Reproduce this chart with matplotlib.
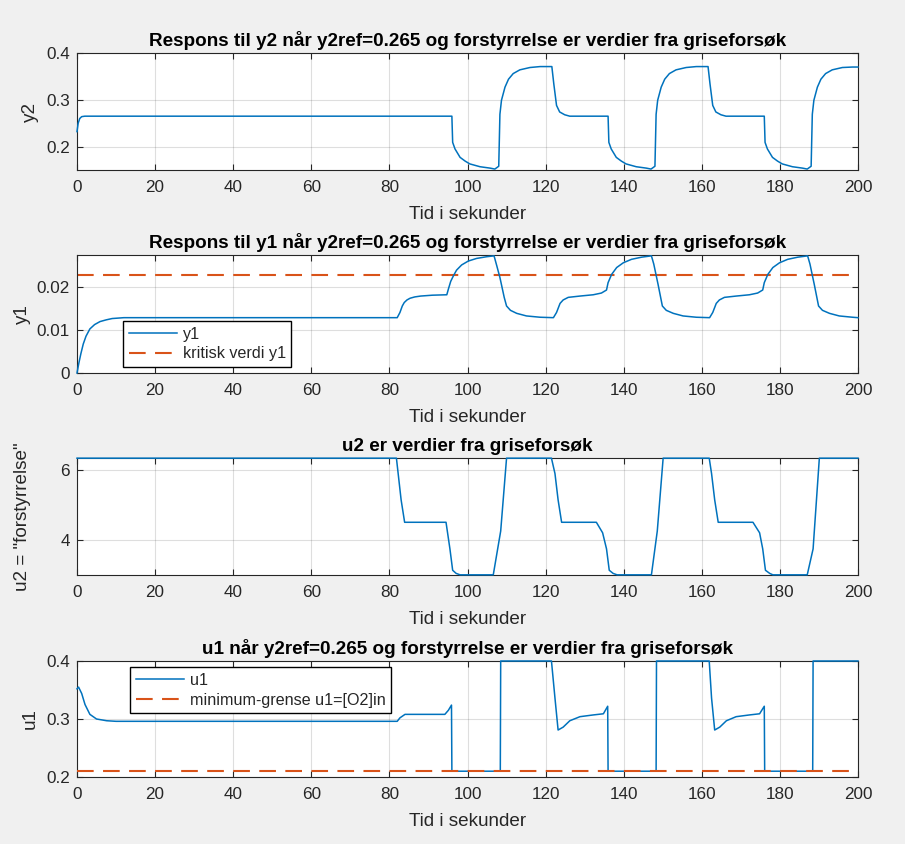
import matplotlib
matplotlib.use("Agg")
import matplotlib.pyplot as plt

plt.rcParams['font.family'] = ['Liberation Sans', 'DejaVu Sans']

# ---------------- data ----------------
xticks = [0, 20, 40, 60, 80, 100, 120, 140, 160, 180, 200]

# Panel 1: y2
y2_t = [0, 0.3, 0.7, 1.2, 2.0, 96.0, 96.2, 96.8, 98.1, 99.4, 100.6, 103.2, 105.8, 107.0, 108.0,
        108.3, 108.7, 109.6, 110.5, 111.7, 113.4, 116.0, 118.6, 121.6, 122.1, 122.8, 123.6, 124.9, 126.2,
        136.0, 136.2, 136.8, 138.1, 139.4, 140.6, 143.2, 145.8, 147.0, 148.0,
        148.3, 148.7, 149.6, 150.5, 151.7, 153.4, 156.0, 158.6, 161.6, 162.1, 162.8, 163.6, 164.9, 166.2,
        176.0, 176.2, 176.8, 178.1, 179.4, 180.6, 183.2, 185.8, 187.0, 188.0,
        188.3, 188.7, 189.6, 190.5, 191.7, 193.4, 196.0, 198.6, 200.0]
y2_v = [0.232, 0.250, 0.260, 0.264, 0.265, 0.265, 0.209, 0.195, 0.177, 0.169, 0.163, 0.157, 0.154, 0.152, 0.158,
        0.269, 0.299, 0.327, 0.344, 0.356, 0.364, 0.369, 0.371, 0.371, 0.334, 0.288, 0.274, 0.268, 0.265,
        0.265, 0.209, 0.195, 0.177, 0.169, 0.163, 0.157, 0.154, 0.152, 0.158,
        0.269, 0.299, 0.327, 0.344, 0.356, 0.364, 0.369, 0.371, 0.371, 0.334, 0.288, 0.274, 0.268, 0.265,
        0.265, 0.209, 0.195, 0.177, 0.169, 0.163, 0.157, 0.154, 0.152, 0.158,
        0.269, 0.299, 0.327, 0.344, 0.356, 0.364, 0.369, 0.370, 0.370]

# Panel 2: y1
y1_t = [0, 0.5, 1.0, 1.6, 2.3, 3.3, 4.5, 5.9, 7.5, 9.0, 12.0, 16.0,
        82.0, 82.7, 83.3, 83.8, 84.5, 85.3, 86.5, 88.0, 91.0, 94.7, 95.1, 95.7, 96.4, 97.2, 98.5, 100.2,
        102.3, 104.9, 106.8, 107.5, 108.3, 109.4, 110.0, 111.0, 112.6, 115.1, 118.6, 122.0,
        122.8, 123.7, 124.5, 125.8, 128.8, 132.2, 134.3, 135.6, 136.0, 136.9, 138.2, 139.9, 142.0,
        144.6, 147.1, 147.7, 148.8, 149.9, 150.9, 152.7, 155.2, 158.6, 162.0,
        162.8, 163.7, 164.5, 165.8, 168.8, 172.2, 174.3, 175.6, 176.0, 176.9, 178.2, 179.9, 182.0,
        184.6, 187.1, 187.7, 188.8, 189.9, 190.9, 192.7, 195.2, 198.6, 200.0]
y1_v = [0.0, 0.0024, 0.0045, 0.0067, 0.0085, 0.0102, 0.0112, 0.0119, 0.0123, 0.0126, 0.0128, 0.0128,
        0.0128, 0.0140, 0.0155, 0.0163, 0.0169, 0.0173, 0.0176, 0.0178, 0.0180, 0.0181, 0.0194, 0.0212,
        0.0225, 0.0238, 0.0250, 0.0259, 0.0265, 0.0269, 0.0271, 0.0248, 0.0221, 0.0175, 0.0155, 0.0145,
        0.0138, 0.0132, 0.0129, 0.0128,
        0.0140, 0.0161, 0.0169, 0.0175, 0.0178, 0.0181, 0.0185, 0.0192, 0.0209, 0.0228, 0.0244, 0.0255,
        0.0263, 0.0268, 0.0271, 0.0252, 0.0205, 0.0155, 0.0145, 0.0138, 0.0132, 0.0129, 0.0128,
        0.0140, 0.0161, 0.0169, 0.0175, 0.0178, 0.0181, 0.0185, 0.0192, 0.0209, 0.0228, 0.0244, 0.0255,
        0.0263, 0.0268, 0.0271, 0.0252, 0.0205, 0.0155, 0.0145, 0.0138, 0.0132, 0.0129, 0.0128]
y1_crit = 0.0226

# Panel 3: u2 (disturbance)
u2_t = [0, 81.8, 83.0, 83.9, 94.5, 95.5, 96.2, 97.1, 98.1, 106.6, 108.5, 110.0,
        121.5, 122.4, 123.2, 124.1, 133.0, 134.6, 135.6, 136.3, 137.3, 138.3, 147.1, 148.6, 150.1,
        161.9, 162.5, 163.3, 164.2, 173.1, 174.8, 175.6, 176.3, 177.4, 178.2, 187.0, 188.5, 190.1, 200.0]
u2_v = [6.33, 6.33, 5.14, 4.5, 4.5, 3.74, 3.13, 3.04, 3.0, 3.0, 4.25, 6.33,
        6.33, 5.89, 5.14, 4.5, 4.5, 4.2, 3.74, 3.13, 3.04, 3.0, 3.0, 4.25, 6.33,
        6.33, 5.89, 5.14, 4.5, 4.5, 4.2, 3.74, 3.13, 3.04, 3.0, 3.0, 3.74, 6.33, 6.33]

# Panel 4: u1
u1_t = [0, 0.4, 1.2, 2.05, 3.3, 5.0, 7.6, 10.0, 82.0, 82.7, 84.0, 94.2, 95.1, 95.9, 96.0,
        108.4, 108.5, 121.5, 122.4, 123.2, 124.5, 126.2, 128.8, 132.2, 134.8, 135.9, 136.0,
        148.3, 148.4, 161.9, 162.5, 163.3, 164.6, 166.3, 168.8, 172.2, 174.8, 176.0, 176.1,
        188.4, 188.5, 200.0]
u1_v = [0.352, 0.355, 0.344, 0.325, 0.308, 0.300, 0.297, 0.296, 0.296, 0.302, 0.308, 0.308, 0.315, 0.324, 0.21,
        0.21, 0.40, 0.40, 0.336, 0.281, 0.286, 0.297, 0.304, 0.307, 0.309, 0.322, 0.21,
        0.21, 0.40, 0.40, 0.336, 0.281, 0.286, 0.297, 0.304, 0.307, 0.309, 0.322, 0.21,
        0.21, 0.40, 0.40]
u1_min = 0.21

titles = ["Respons til y2 når y2ref=0.265 og forstyrrelse er verdier fra griseforsøk",
          "Respons til y1 når y2ref=0.265 og forstyrrelse er verdier fra griseforsøk",
          "u2 er verdier fra griseforsøk",
          "u1 når y2ref=0.265 og forstyrrelse er verdier fra griseforsøk"]
ylabels = ["y2", "y1", 'u2 = "forstyrrelse"', "u1"]
xlabel = "Tid i sekunder"

# ---------------- style ----------------
BLUE = "#0072BD"
ORANGE = "#D95319"
AX = "#262626"
TICK_FS = 12.3
LABEL_FS = 13.6
TITLE_FS = 13.6
LEG_FS = 11.6

fig = plt.figure(figsize=(9.05, 8.44), dpi=100, facecolor="#f0f0f0")
W, H = 905.0, 844.0
left, right = 77 / W, 858 / W
boxes = [(53, 170), (255, 373), (458, 575), (661, 777)]
ylabel_x = [-0.0487, -0.0589, -0.0589, -0.0487]
axes = []
for top, bot in boxes:
    ax = fig.add_axes([left, 1 - bot / H, right - left, (bot - top) / H])
    axes.append(ax)


def style(ax, yticks, ylim, ylabel, title, lx):
    ax.set_xlim(0, 200)
    ax.set_ylim(*ylim)
    ax.set_xticks(xticks)
    ax.set_yticks(yticks)
    ax.set_facecolor("white")
    ax.grid(True, color=AX, alpha=0.15, linewidth=0.8)
    ax.set_axisbelow(True)
    for s in ax.spines.values():
        s.set_color(AX)
        s.set_linewidth(0.8)
    ax.tick_params(direction="in", length=4, width=0.8, colors=AX, labelsize=TICK_FS,
                   top=True, right=True, labelcolor=AX)
    ax.tick_params(axis="x", pad=7)
    ax.tick_params(axis="y", pad=5)
    ax.set_xlabel(xlabel, fontsize=LABEL_FS, color=AX, labelpad=8)
    ax.set_ylabel(ylabel, fontsize=LABEL_FS, color=AX)
    ax.yaxis.set_label_coords(lx, 0.5)
    ax.set_title(title, fontsize=TITLE_FS, fontweight="bold", color="black", pad=5)


def make_legend(ax, loc, anchor):
    leg = ax.legend(loc=loc, bbox_to_anchor=anchor, fontsize=LEG_FS, frameon=True,
                    fancybox=False, edgecolor="black", framealpha=1, handlelength=3.0,
                    borderpad=0.35, labelspacing=0.3, handletextpad=0.35, borderaxespad=0)
    leg.get_frame().set_linewidth(1.0)
    for t in leg.get_texts():
        t.set_color(AX)
    return leg


ax1, ax2, ax3, ax4 = axes

ax1.plot(y2_t, y2_v, color=BLUE, lw=1.1, clip_on=False, zorder=3)
style(ax1, [0.2, 0.3, 0.4], (0.15, 0.4), ylabels[0], titles[0], ylabel_x[0])
ax1.set_yticklabels(["0.2", "0.3", "0.4"])

ax2.plot(y1_t, y1_v, color=BLUE, lw=1.1, label="y1", clip_on=False, zorder=3)
ax2.axhline(y1_crit, color=ORANGE, lw=1.5, dashes=(8, 4.5), label="kritisk verdi y1", zorder=2.5)
style(ax2, [0, 0.01, 0.02], (0, 0.0273), ylabels[1], titles[1], ylabel_x[1])
ax2.set_yticklabels(["0", "0.01", "0.02"])
make_legend(ax2, "lower left", (0.059, 0.05))

ax3.plot(u2_t, u2_v, color=BLUE, lw=1.1, clip_on=False, zorder=3)
style(ax3, [4, 6], (2.995, 6.335), ylabels[2], titles[2], ylabel_x[2])

ax4.plot(u1_t, u1_v, color=BLUE, lw=1.1, label="u1", clip_on=False, zorder=3)
ax4.axhline(u1_min, color=ORANGE, lw=1.5, dashes=(8, 4.5), label="minimum-grense u1=[O2]in", zorder=3.5)
style(ax4, [0.2, 0.3, 0.4], (0.2, 0.4), ylabels[3], titles[3], ylabel_x[3])
ax4.set_yticklabels(["0.2", "0.3", "0.4"])
make_legend(ax4, "upper left", (0.068, 0.948))

fig.savefig("out.png", dpi=100, facecolor=fig.get_facecolor())
